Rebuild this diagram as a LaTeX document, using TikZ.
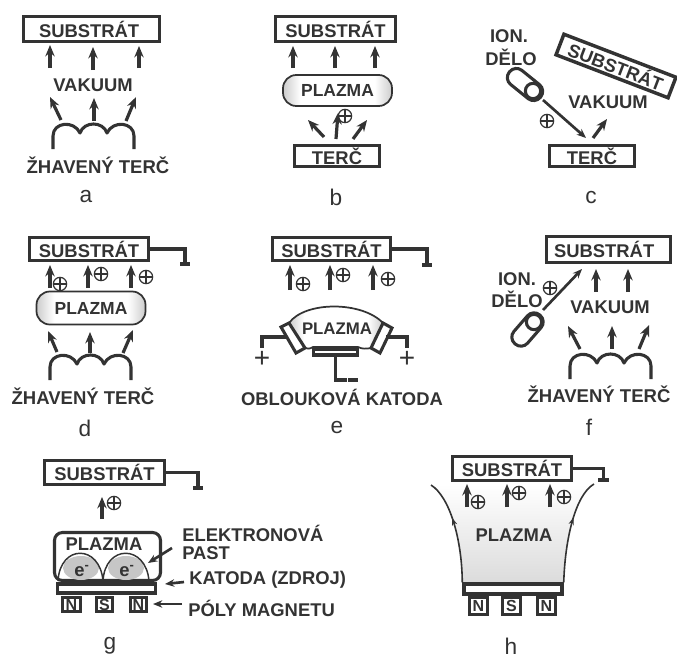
\documentclass[tikz,border=0pt]{standalone}
\usepackage{fontspec}
\setmainfont{Liberation Sans}
\usetikzlibrary{arrows.meta,decorations.markings,shapes.geometric}
\definecolor{ink}{gray}{0.2}
\definecolor{edge}{gray}{0.8}
\pgfdeclarehorizontalshading{edgeshade}{100bp}{color(0bp)=(edge);color(25bp)=(edge);color(33bp)=(white);color(67bp)=(white);color(75bp)=(edge);color(100bp)=(edge)}
\tikzset{
  x=0.75pt,y=-0.75pt,
  lab/.style={font=\fontsize{13.8}{15}\selectfont\bfseries,text=ink,inner sep=0pt},
  coillab/.style={font=\fontsize{13.9}{15}\selectfont\bfseries,text=ink,inner sep=0pt},
  letter/.style={font=\fontsize{17}{18}\selectfont,text=ink,inner sep=0pt},
  subbox/.style 2 args={draw=ink,line width=2.6pt,fill=white,inner sep=0pt,font=\fontsize{13.8}{15}\selectfont\bfseries,text=ink,
     minimum width=#1*0.75pt,minimum height=#2*0.75pt},
  magnet/.style={draw=ink,line width=2.4pt,fill=white,inner sep=0pt,font=\fontsize{12}{12}\selectfont\bfseries,text=ink,
     minimum width=16.5*0.75pt,minimum height=14.5*0.75pt},
  pill/.style 2 args={draw=ink,line width=1.3pt,rounded corners=10pt,shading=edgeshade,
     inner sep=0pt,font=\fontsize{13.1}{15}\selectfont\bfseries,text=ink,
     minimum width=#1*0.75pt,minimum height=#2*0.75pt},
  flow/.style={draw=ink,line width=2.4pt,-{Stealth[length=8.5pt,width=7pt]}},
  thinflow/.style={draw=ink,line width=2pt,-{Stealth[length=7pt,width=5.6pt]}},
  wire/.style={draw=ink,line width=2.3pt},
  minusbar/.style={fill=ink,inner sep=0pt,minimum width=8pt,minimum height=2.8pt},
  plussign/.style={font=\fontsize{21}{24}\selectfont,text=ink,inner sep=0pt},
  oplus/.style={circle,draw=ink,line width=0.9pt,minimum size=10pt,inner sep=0pt,
    path picture={\draw[ink,line width=0.9pt] (path picture bounding box.north)--(path picture bounding box.south)
      (path picture bounding box.west)--(path picture bounding box.east);}},
  capsule/.style 2 args={draw=ink,line width=2.3pt,fill=white,rounded corners=6.5pt,inner sep=0pt,
     minimum width=#1*0.75pt,minimum height=#2*0.75pt},
  gunring/.style={circle,draw=ink,line width=2.3pt,fill=white,minimum size=11.5pt,inner sep=0pt},
  coil/.pic={\draw[ink,line width=2.3pt,line join=round]
     (0,0)--(0,-13) .. controls (0,-27) and (21,-29) .. (27,-16)
     .. controls (31,-28) and (50,-28) .. (54,-16)
     .. controls (60,-29) and (81,-27) .. (81,-13) -- (81,0);},
}
\newcommand{\arw}[4][flow]{\coordinate (#2s) at #3; \coordinate (#2e) at #4; \draw[#1] (#2s)--(#2e);}
\begin{document}
\begin{tikzpicture}
\useasboundingbox (0,0) rectangle (677,657);
%% a
\node[subbox={136}{25}] (aS) at (91.5,29) {SUBSTRÁT\hspace*{3.6pt}};
\arw{a1}{(50,68)}{(50,45)} \arw{a2}{(93,70)}{(93,47)} \arw{a3}{(139,68)}{(139,46)}
\node[lab] (aV) at (93,85) {VAKUUM};
\arw{a4}{(61,120)}{(50,97)} \arw{a5}{(94,121)}{(94,98)} \arw{a6}{(126,121)}{(136,97)}
\pic at (53,149) {coil};
\node[coillab] (aT) at (98,165) {ŽHAVENÝ TERČ};
\node[letter] (aL) at (86,197) {a};
%% b
\node[subbox={120}{25}] (bS) at (335.5,29) {SUBSTRÁT};
\arw{b1}{(293,68)}{(293,46)} \arw{b2}{(335,68)}{(335,46)} \arw{b3}{(375,68)}{(375,46)}
\node[pill={109}{31}] (bP) at (337.5,90.5) {PLAZMA};
\node[oplus] (bO) at (345,116) {};
\arw{b4}{(324,137)}{(308,120)} \arw{b5}{(336,139)}{(338,113)} \arw{b6}{(353,139)}{(367,120)}
\node[subbox={85}{21}] (bT) at (337,156) {TERČ};
\node[letter] (bL) at (336,197) {b};
%% c
\node[subbox={120}{22},rotate=-21] (cS) at (616,66) {SUBSTRÁT};
\node[lab] (cI) at (509,36) {ION.};
\node[lab] (cD) at (511,57) {DĚLO};
\node[capsule={40}{18},rotate=-39] (cG) at (525,84.5) {};
\node[gunring] (cR) at (533,91) {};
\coordinate (cHit) at (586,138);
\draw[thinflow] (543,100) coordinate (cOut) -- (cHit);
\node[oplus] (cO) at (547,121) {};
\arw{c1}{(593,138)}{(607,119)}
\node[lab] (cV) at (608,102) {VAKUUM};
\node[subbox={85}{21}] (cT) at (592,156) {TERČ};
\node[letter] (cL) at (591,198) {c};
%% d
\node[subbox={119}{23}] (dS) at (89,249) {SUBSTRÁT};
\node[minusbar] (dM) at (185,264) {};
\draw[wire] (dS.east) -| (dM.north);
\arw{d1}{(50,288)}{(50,265)} \arw{d2}{(88,288)}{(88,265)} \arw{d3}{(131,288)}{(131,265)}
\node[oplus] (dO1) at (60,284) {};
\node[oplus] (dO2) at (101,274) {};
\node[oplus] (dO3) at (146,277) {};
\node[pill={109}{33}] (dP) at (91,308) {PLAZMA};
\arw{d4}{(57,352)}{(48,331)} \arw{d5}{(90,353)}{(90,332)} \arw{d6}{(123,353)}{(133,330)}
\pic at (50,380) {coil};
\node[coillab] (dT) at (83,396) {ŽHAVENÝ TERČ};
\node[letter] (dL) at (85,428) {d};
%% e
\node[subbox={118}{23}] (eS) at (331.5,249) {SUBSTRÁT};
\node[minusbar] (eM) at (427,265) {};
\draw[wire] (eS.east) -| (eM.north);
\arw{e1}{(290,290)}{(290,265)} \arw{e2}{(330,290)}{(330,265)} \arw{e3}{(373,290)}{(373,265)}
\node[oplus] (eO1) at (303,284) {};
\node[oplus] (eO2) at (343,275) {};
\node[oplus] (eO3) at (388,279) {};
\draw[ink,line width=1.3pt,shading=edgeshade]
  (289,323) .. controls (305,301) and (362,301) .. (383,323)
  -- (371,348) .. controls (366,349) and (362,349) .. (358,347) -- (313,347)
  .. controls (310,349) and (307,349) .. (305,348) -- cycle;
\draw[ink,line width=2.3pt,fill=white] (281,327)--(289,323)--(305,348)--(296,353)--cycle;
\draw[ink,line width=2.3pt,fill=white] (383,323)--(392,328)--(380,353)--(371,348)--cycle;
\node[subbox={44}{6}] (eC) at (335.5,352) {};
\node[lab,font=\fontsize{12.6}{15}\selectfont\bfseries] (eP) at (337,329) {PLAZMA};
\coordinate (eL) at (286,337);
\coordinate (eR) at (386,337);
\coordinate (eLe) at (262,348);
\coordinate (eRe) at (407,348);
\node[plussign] (eP1) at (262,359) {+};
\node[plussign] (eP2) at (407,359) {+};
\draw[wire] (eL) -| (eLe);
\draw[wire] (eR) -| (eRe);
\node[minusbar] (eM2) at (353,380) {};
\draw[wire] (eC.south) |- (eM2.west);
\node[lab] (eT) at (342,397) {OBLOUKOVÁ KATODA};
\node[letter] (eLt) at (337,428) {e};
%% f
\node[subbox={124}{26}] (fS) at (608.5,249.5) {SUBSTRÁT\hspace*{6.5pt}};
\arw{f1}{(596,292)}{(596,269)} \arw{f2}{(628,292)}{(628,269)}
\node[lab] (fV) at (610,307) {VAKUUM};
\node[lab] (fI) at (517,279) {ION.};
\node[lab] (fD) at (517,299) {DĚLO};
\node[oplus] (fO) at (550,288) {};
\node[capsule={38}{18},rotate=49] (fG) at (527.5,329.5) {};
\node[gunring] (fR) at (534,322) {};
\coordinate (fHit) at (582,269);
\draw[thinflow] (543,310) coordinate (fOut) -- (fHit);
\arw{f3}{(580,349)}{(568,326)} \arw{f4}{(612,349)}{(612,326)} \arw{f5}{(639,349)}{(649,325)}
\pic at (570,379) {coil};
\node[coillab] (fT) at (599,394) {ŽHAVENÝ TERČ};
\node[letter] (fL) at (589,427) {f};
%% g
\node[subbox={120}{24}] (gS) at (104.5,472.5) {SUBSTRÁT};
\node[minusbar] (gM) at (198,488) {};
\draw[wire] (gS.east) -| (gM.north);
\arw{g1}{(102,519)}{(102,497)}
\node[oplus] (gO) at (114,503) {};
\node[draw=ink,line width=2.3pt,fill=white,rounded corners=6pt,inner sep=0pt,minimum width=79.5pt,minimum height=36pt] (gP) at (107.5,556.5) {};
\node[ellipse,fill=gray!45,minimum width=27pt,minimum height=18pt,inner sep=0pt] at (81,568) (gE1) {};
\node[ellipse,fill=gray!45,minimum width=27pt,minimum height=18pt,inner sep=0pt] at (126,568) (gE2) {};
\draw[ink,line width=1.1pt] (58,581) .. controls (60,544) and (100,544) .. (103,581)
   .. controls (105,544) and (146,544) .. (149,581);
\node[lab] (gPt) at (104,544) {PLAZMA};
\node[lab] (gE1t) at (82,571) {e\textsuperscript{-}};
\node[lab] (gE2t) at (127,571) {e\textsuperscript{-}};
\node[subbox={98}{9}] (gC) at (106.5,588.5) {};
\node[magnet,minimum width=13.5pt] (gN1) at (71.5,604.5) {N};
\node[magnet] (gSm) at (104.5,604.5) {S};
\node[magnet] (gN2) at (138.5,604.5) {N};
\node[lab,anchor=west] (gL1) at (182,533) {ELEKTRONOVÁ};
\node[lab,anchor=west] (gL2) at (182,553) {PAST};
\node[lab,anchor=west] (gL3) at (189,580) {KATODA (ZDROJ)};
\node[lab,anchor=west] (gL4) at (188,608) {PÓLY MAGNETU};
\arw[thinflow]{g2}{(172,548)}{(148,563)}
\arw[thinflow]{g3}{(184,582)}{(165,584)}
\arw[thinflow]{g4}{(182,604)}{(153,604)}
\node[letter] (gLt) at (110,646) {g};
%% h
\shade[top color=white,middle color=white,bottom color=gray!28]
  (463,583) .. controls (462,540) and (450,497) .. (431,485) -- (594,484)
  .. controls (575,495) and (565,540) .. (563,583) -- cycle;
\node[subbox={119}{24}] (hS) at (512,468.5) {SUBSTRÁT};
\node[minusbar] (hM) at (603.5,480) {};
\draw[wire] (hS.east) -| (hM.north);
\arw{h1}{(467,507)}{(467,484)} \arw{h2}{(507,507)}{(507,484)} \arw{h3}{(550,507)}{(550,484)}
\node[oplus] (hO1) at (478,502) {};
\node[oplus] (hO2) at (519,493) {};
\node[oplus] (hO3) at (564,497) {};
\node[lab] (hP) at (514,535) {PLAZMA};
\node[subbox={98}{10}] (hC) at (513,589) {};
\coordinate (hA) at (431,485);
\coordinate (hB) at (594,484);
\tikzset{fieldmark/.style={decoration={markings,mark=at position 0.62 with {\arrow[ink]{Stealth[length=5.5pt,width=4pt]}}},postaction={decorate}}}
\draw[ink,line width=1.2pt,fieldmark] (hC.north west) .. controls (462,540) and (450,497) .. (hA);
\draw[ink,line width=1.2pt,fieldmark] (hC.north east) .. controls (565,540) and (575,495) .. (hB);
\node[magnet,minimum width=13.5pt,minimum height=12.5pt] (hN1) at (478.5,606) {N};
\node[magnet,minimum width=13.5pt,minimum height=12.5pt] (hSm) at (511.5,606) {S};
\node[magnet,minimum width=13.5pt,minimum height=12.5pt] (hN2) at (546.5,606) {N};
\node[letter] (hL) at (511,646) {h};
\end{tikzpicture}
\end{document}
